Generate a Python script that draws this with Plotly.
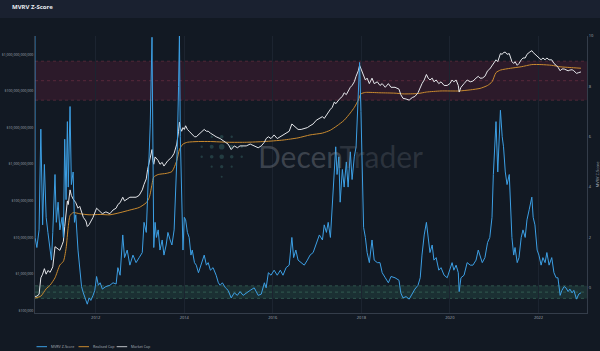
import datetime
import plotly.graph_objects as go

# ---------------- data ----------------
z_years = [
    2010.625,
    2010.63, 2010.67, 2010.72, 2010.76, 2010.80, 2010.84, 2010.88, 2010.92, 2010.97, 2011.00,
    2011.03, 2011.08, 2011.11, 2011.15, 2011.19, 2011.24, 2011.27, 2011.30, 2011.33, 2011.36,
    2011.38, 2011.42, 2011.45, 2011.49, 2011.52, 2011.55, 2011.60, 2011.64, 2011.68, 2011.72,
    2011.78, 2011.81, 2011.85, 2011.89, 2011.94, 2011.98, 2012.02, 2012.06, 2012.10, 2012.15,
    2012.23, 2012.32, 2012.39, 2012.46, 2012.50, 2012.55, 2012.61, 2012.65, 2012.71, 2012.77,
    2012.84, 2012.91, 2012.98, 2013.05, 2013.09, 2013.14, 2013.17, 2013.21, 2013.23, 2013.27,
    2013.29, 2013.31, 2013.34, 2013.37, 2013.41, 2013.45, 2013.50, 2013.54, 2013.59, 2013.63,
    2013.68, 2013.72, 2013.77, 2013.80, 2013.84, 2013.87, 2013.89, 2013.91, 2013.94, 2013.97,
    2014.00, 2014.03, 2014.07, 2014.11, 2014.15, 2014.18, 2014.23, 2014.27, 2014.32, 2014.36,
    2014.41, 2014.45, 2014.50, 2014.54, 2014.59, 2014.65, 2014.72, 2014.77, 2014.81, 2014.86,
    2014.93, 2014.99, 2015.06, 2015.13, 2015.20, 2015.26, 2015.33, 2015.40, 2015.49, 2015.58,
    2015.67, 2015.74, 2015.81, 2015.85, 2015.90, 2015.96, 2016.03, 2016.10, 2016.17, 2016.23,
    2016.30, 2016.37, 2016.43, 2016.47, 2016.52, 2016.57, 2016.64, 2016.71, 2016.78, 2016.84,
    2016.91, 2016.98, 2017.05, 2017.12, 2017.16, 2017.21, 2017.25, 2017.30, 2017.34, 2017.39,
    2017.42, 2017.45, 2017.49, 2017.52, 2017.57, 2017.61, 2017.66, 2017.70, 2017.75, 2017.79,
    2017.84, 2017.88, 2017.93, 2017.96, 2017.99, 2018.02, 2018.05, 2018.09, 2018.13, 2018.18,
    2018.24, 2018.29, 2018.36, 2018.42, 2018.47, 2018.54, 2018.61, 2018.67, 2018.76, 2018.85,
    2018.89, 2018.94, 2019.01, 2019.08, 2019.15, 2019.21, 2019.28, 2019.33, 2019.37, 2019.42,
    2019.47, 2019.51, 2019.55, 2019.60, 2019.64, 2019.69, 2019.75, 2019.80, 2019.87, 2019.94,
    2020.00, 2020.05, 2020.09, 2020.14, 2020.19, 2020.21, 2020.25, 2020.32, 2020.39, 2020.46,
    2020.52, 2020.59, 2020.64, 2020.68, 2020.73, 2020.79, 2020.85, 2020.90, 2020.95, 2020.98,
    2021.01, 2021.04, 2021.08, 2021.11, 2021.14, 2021.18, 2021.21, 2021.25, 2021.29, 2021.34,
    2021.37, 2021.40, 2021.44, 2021.47, 2021.52, 2021.56, 2021.61, 2021.65, 2021.70, 2021.74,
    2021.79, 2021.85, 2021.88, 2021.92, 2021.97, 2022.01, 2022.06, 2022.10, 2022.15, 2022.19,
    2022.24, 2022.30, 2022.35, 2022.40, 2022.44, 2022.49, 2022.53, 2022.58, 2022.62, 2022.67,
    2022.71, 2022.76, 2022.80, 2022.86, 2022.91, 2022.96,
]
z_values = [
    12.0,
    2.0, 1.6, 2.3, 6.3, 2.5, 4.9, 2.8, 2.2, 1.5, 1.1,
    2.2, 4.5, 2.6, 3.4, 2.3, 2.8, 2.0, 5.9, 3.5, 6.6,
    4.0, 7.2, 4.1, 4.6, 2.6, 2.9, 1.5, 0.9, 0.05, -0.2,
    -0.5, -0.65, -0.4, -0.5, -0.3, -0.1, 0.45, 0.1, 0.2, -0.05,
    0.05, 0.1, 0.2, 0.15, 0.8, 0.5, 2.1, 1.2, 1.5, 0.9,
    1.3, 1.0, 1.2, 1.4, 2.6, 2.2, 3.6, 5.2, 6.5, 9.95,
    5.0, 1.6, 2.6, 2.0, 2.3, 1.5, 1.9, 1.3, 1.7, 2.2,
    1.9, 1.7, 2.3, 3.6, 5.5, 8.0, 10.05, 6.0, 3.0, 1.5,
    2.8, 2.7, 2.2, 2.0, 1.3, 1.5, 1.0, 0.9, 0.6, 0.8,
    1.1, 1.3, 0.9, 1.0, 0.7, 0.8, 0.5, 0.2, 0.1, 0.2,
    0.0, -0.1, -0.4, -0.2, -0.3, -0.15, -0.3, -0.2, -0.1, 0.0,
    -0.3, -0.25, 0.2, 0.0, 0.6, 0.5, 0.7, 0.5, 0.7, 0.5,
    0.8, 0.9, 2.0, 1.2, 1.5, 1.1, 1.0, 0.9, 1.1, 1.3,
    1.4, 1.8, 2.1, 1.9, 2.5, 2.2, 2.6, 2.0, 3.3, 4.6,
    5.6, 4.5, 5.2, 3.4, 4.7, 4.0, 5.0, 4.0, 5.4, 4.3,
    5.2, 5.6, 7.5, 8.95, 7.0, 4.5, 2.4, 2.0, 1.4, 1.0,
    1.9, 1.1, 1.0, 1.0, 0.6, 0.4, 0.2, 0.45, 0.4, 0.3,
    -0.2, -0.4, -0.35, -0.45, -0.2, -0.05, 0.1, 0.4, 1.3, 2.1,
    2.6, 2.0, 1.4, 1.7, 1.1, 1.2, 0.7, 0.8, 0.5, 0.4,
    0.7, 1.0, 0.7, 0.9, 0.6, -0.15, 0.4, 0.5, 1.0, 0.9,
    0.9, 1.1, 1.5, 1.3, 1.0, 1.2, 1.8, 2.0, 2.8, 4.5,
    5.6, 6.6, 4.6, 6.2, 7.05, 6.0, 5.6, 4.6, 4.1, 4.5,
    3.2, 2.0, 1.3, 1.6, 1.0, 1.2, 2.0, 2.3, 2.0, 2.7,
    3.1, 3.6, 2.8, 2.5, 1.5, 1.3, 0.9, 1.2, 1.0, 1.4,
    0.9, 1.2, 0.6, 0.4, 0.4, -0.3, -0.1, 0.05, 0.0, -0.15,
    -0.05, -0.2, -0.1, -0.45, -0.25, -0.2,
]

mc_years = [
    2010.63, 2010.67, 2010.72, 2010.76, 2010.80, 2010.84, 2010.88, 2010.92, 2010.97, 2011.03,
    2011.08, 2011.15, 2011.19, 2011.24, 2011.27, 2011.30, 2011.36, 2011.38, 2011.42, 2011.45,
    2011.49, 2011.55, 2011.60, 2011.64, 2011.72, 2011.78, 2011.81, 2011.85, 2011.89, 2011.94,
    2012.02, 2012.10, 2012.15, 2012.23, 2012.32, 2012.39, 2012.46, 2012.50, 2012.55, 2012.61,
    2012.65, 2012.71, 2012.77, 2012.84, 2012.91, 2012.98, 2013.05, 2013.09, 2013.14, 2013.17,
    2013.21, 2013.23, 2013.27, 2013.29, 2013.31, 2013.34, 2013.41, 2013.45, 2013.50, 2013.54,
    2013.59, 2013.63, 2013.68, 2013.72, 2013.77, 2013.83, 2013.87, 2013.89, 2013.91, 2013.94,
    2013.97, 2014.00, 2014.03, 2014.07, 2014.11, 2014.18, 2014.23, 2014.27, 2014.32, 2014.36,
    2014.41, 2014.45, 2014.50, 2014.54, 2014.59, 2014.65, 2014.72, 2014.81, 2014.86, 2014.93,
    2014.99, 2015.06, 2015.13, 2015.20, 2015.26, 2015.33, 2015.40, 2015.49, 2015.58, 2015.67,
    2015.74, 2015.81, 2015.85, 2015.90, 2015.96, 2016.03, 2016.10, 2016.17, 2016.23, 2016.30,
    2016.37, 2016.43, 2016.47, 2016.52, 2016.57, 2016.64, 2016.71, 2016.78, 2016.84, 2016.91,
    2016.98, 2017.05, 2017.12, 2017.16, 2017.21, 2017.25, 2017.30, 2017.34, 2017.39, 2017.42,
    2017.45, 2017.52, 2017.57, 2017.61, 2017.66, 2017.70, 2017.75, 2017.79, 2017.84, 2017.88,
    2017.93, 2017.96, 2017.99, 2018.02, 2018.05, 2018.09, 2018.13, 2018.18, 2018.24, 2018.29,
    2018.36, 2018.42, 2018.47, 2018.54, 2018.61, 2018.67, 2018.76, 2018.85, 2018.89, 2018.94,
    2019.01, 2019.08, 2019.15, 2019.21, 2019.28, 2019.33, 2019.37, 2019.42, 2019.47, 2019.51,
    2019.55, 2019.60, 2019.64, 2019.69, 2019.75, 2019.80, 2019.87, 2019.94, 2020.00, 2020.05,
    2020.09, 2020.14, 2020.19, 2020.21, 2020.25, 2020.32, 2020.39, 2020.46, 2020.52, 2020.59,
    2020.64, 2020.68, 2020.73, 2020.79, 2020.85, 2020.90, 2020.95, 2020.98, 2021.04, 2021.08,
    2021.11, 2021.14, 2021.18, 2021.21, 2021.25, 2021.29, 2021.34, 2021.37, 2021.40, 2021.44,
    2021.47, 2021.52, 2021.56, 2021.61, 2021.65, 2021.70, 2021.74, 2021.79, 2021.85, 2021.88,
    2021.92, 2021.97, 2022.01, 2022.06, 2022.10, 2022.15, 2022.19, 2022.24, 2022.30, 2022.35,
    2022.40, 2022.44, 2022.49, 2022.53, 2022.58, 2022.62, 2022.67, 2022.71, 2022.76, 2022.80,
    2022.86, 2022.91, 2022.96,
]
mc_log10 = [
    5.39, 5.4, 5.45, 5.9, 6.0, 6.15, 6.0, 6.1, 6.05, 6.2,
    6.75, 6.7, 6.65, 6.8, 6.9, 7.3, 8.0, 7.9, 8.3, 8.15,
    8.05, 7.95, 7.8, 7.85, 7.55, 7.45, 7.3, 7.35, 7.45, 7.55,
    7.8, 7.7, 7.65, 7.7, 7.65, 7.75, 7.8, 7.9, 7.95, 8.1,
    8.0, 8.05, 8.1, 8.1, 8.1, 8.15, 8.3, 8.45, 8.6, 8.85,
    9.1, 9.25, 9.4, 9.1, 9.0, 9.2, 9.1, 9.0, 9.05, 8.95,
    9.05, 9.1, 9.15, 9.2, 9.3, 9.55, 9.9, 10.15, 10.0, 9.9,
    10.0, 9.95, 10.05, 9.95, 9.9, 9.8, 9.75, 9.75, 9.8, 9.85,
    9.9, 9.95, 9.9, 9.9, 9.85, 9.8, 9.75, 9.7, 9.65, 9.6,
    9.55, 9.4, 9.5, 9.45, 9.5, 9.5, 9.5, 9.55, 9.5, 9.45,
    9.5, 9.6, 9.7, 9.75, 9.7, 9.8, 9.7, 9.75, 9.8, 9.85,
    9.9, 10.1, 10.05, 10.0, 9.95, 9.95, 9.97, 10.0, 10.05, 10.1,
    10.2, 10.25, 10.3, 10.25, 10.35, 10.4, 10.5, 10.55, 10.7, 10.65,
    10.7, 10.8, 10.85, 10.95, 10.9, 11.0, 11.1, 11.15, 11.25, 11.4,
    11.55, 11.7, 11.6, 11.5, 11.45, 11.3, 11.35, 11.2, 11.35, 11.2,
    11.25, 11.15, 11.2, 11.1, 11.2, 11.1, 11.1, 11.05, 10.9, 10.8,
    10.78, 10.75, 10.82, 10.85, 10.95, 11.1, 11.2, 11.3, 11.45, 11.35,
    11.3, 11.35, 11.25, 11.3, 11.2, 11.25, 11.15, 11.15, 11.2, 11.3,
    11.25, 11.3, 11.15, 10.97, 11.1, 11.2, 11.3, 11.25, 11.27, 11.35,
    11.4, 11.35, 11.35, 11.4, 11.55, 11.6, 11.7, 11.75, 11.85, 11.8,
    11.95, 12.02, 12.0, 12.05, 12.06, 12.0, 12.02, 11.9, 11.8, 11.75,
    11.8, 11.7, 11.75, 11.85, 11.9, 11.9, 12.0, 12.05, 12.1, 12.05,
    12.0, 11.95, 11.9, 11.85, 11.9, 11.85, 11.9, 11.85, 11.85, 11.75,
    11.7, 11.65, 11.55, 11.6, 11.6, 11.58, 11.55, 11.57, 11.58, 11.55,
    11.48, 11.5, 11.52,
]

rc_years = [
    2010.63, 2010.76, 2010.88, 2010.97, 2011.08, 2011.19, 2011.27, 2011.33, 2011.38, 2011.42,
    2011.49, 2011.64, 2011.85, 2012.10, 2012.32, 2012.55, 2012.77, 2012.98, 2013.14, 2013.21,
    2013.27, 2013.31, 2013.41, 2013.59, 2013.72, 2013.83, 2013.89, 2013.97, 2014.07, 2014.32,
    2014.59, 2014.99, 2015.40, 2015.81, 2016.23, 2016.57, 2016.84, 2017.12, 2017.30, 2017.45,
    2017.61, 2017.75, 2017.84, 2017.93, 2017.99, 2018.09, 2018.42, 2018.76, 2018.94, 2019.28,
    2019.47, 2019.80, 2020.21, 2020.46, 2020.68, 2020.85, 2020.95, 2021.04, 2021.14, 2021.37,
    2021.61, 2021.85, 2022.06, 2022.30, 2022.49, 2022.71, 2022.96,
]
rc_log10 = [
    5.35, 5.4, 5.6, 5.7, 5.9, 6.25, 6.35, 6.7, 7.3, 7.6,
    7.68, 7.65, 7.62, 7.63, 7.62, 7.68, 7.75, 7.82, 7.95, 8.1,
    8.45, 8.65, 8.72, 8.75, 8.8, 9.1, 9.4, 9.55, 9.6, 9.62,
    9.62, 9.6, 9.6, 9.62, 9.66, 9.72, 9.8, 9.85, 9.93, 10.05,
    10.2, 10.4, 10.55, 10.75, 10.92, 10.96, 10.95, 10.94, 10.92, 10.93,
    10.97, 11.0, 11.0, 11.03, 11.07, 11.15, 11.25, 11.5, 11.57, 11.62,
    11.66, 11.72, 11.72, 11.7, 11.66, 11.64, 11.62,
]

cap_tick_vals = [1e5, 1e6, 1e7, 1e8, 1e9, 1e10, 1e11, 1e12]
cap_tick_text = ["$100,000", "$1,000,000", "$10,000,000", "$100,000,000",
                 "$1,000,000,000", "$10,000,000,000", "$100,000,000,000",
                 "$1,000,000,000,000"]
z_tick_vals = [0, 2, 4, 6, 8, 10]
year_ticks = [2012, 2014, 2016, 2018, 2020, 2022]

red_band = [7.45, 9.0]
green_band = [-0.42, 0.08]


def yr2dt(y):
    yi = int(y)
    a = datetime.datetime(yi, 1, 1)
    b = datetime.datetime(yi + 1, 1, 1)
    return a + (b - a) * (y - yi)


# ---------------- figure ----------------
W, H = 600, 351
ML, MR, MT, MB = 35, 13, 36, 38
PW, PH = W - ML - MR, H - MT - MB
BG = "#121923"
HEADER = "#1a2130"
TICK = "#a3abb5"
AXLINE = "#343d4a"


def px(X):
    return (X - ML) / PW


def py(Y):
    return (H - MB - Y) / PH


fig = go.Figure()
fig.add_trace(go.Scatter(
    x=[yr2dt(v) for v in z_years], y=z_values, yaxis="y2", mode="lines",
    name="MVRV Z-Score", line=dict(color="#3c9fe4", width=1), showlegend=False))
fig.add_trace(go.Scatter(
    x=[yr2dt(v) for v in rc_years], y=[10 ** v for v in rc_log10], mode="lines",
    name="Realised Cap", line=dict(color="#c98a2f", width=1, shape="spline", smoothing=0.6),
    showlegend=False))
fig.add_trace(go.Scatter(
    x=[yr2dt(v) for v in mc_years], y=[10 ** v for v in mc_log10], mode="lines",
    name="Market Cap", line=dict(color="#e4e6ea", width=1), showlegend=False))

shapes = []
# header bar
shapes.append(dict(type="rect", xref="paper", yref="paper", x0=px(0), x1=px(W),
                   y0=py(18), y1=py(0), fillcolor=HEADER, line=dict(width=0), layer="below"))
# bands
shapes.append(dict(type="rect", xref="paper", yref="y2", x0=0, x1=1,
                   y0=red_band[0], y1=red_band[1], fillcolor="rgba(110,30,60,0.28)",
                   line=dict(width=0), layer="below"))
shapes.append(dict(type="rect", xref="paper", yref="y2", x0=0, x1=1,
                   y0=green_band[0], y1=green_band[1], fillcolor="rgba(60,130,110,0.22)",
                   line=dict(width=0), layer="below"))
for v in [red_band[0], sum(red_band) / 2, red_band[1]]:
    shapes.append(dict(type="line", xref="paper", yref="y2", x0=0, x1=1, y0=v, y1=v,
                       line=dict(color="rgba(170,70,90,0.5)", width=0.7, dash="dot"),
                       layer="below"))
for v in [green_band[0], sum(green_band) / 2, green_band[1]]:
    shapes.append(dict(type="line", xref="paper", yref="y2", x0=0, x1=1, y0=v, y1=v,
                       line=dict(color="rgba(90,160,130,0.55)", width=0.7, dash="dot"),
                       layer="below"))

# watermark logo dots
dots = [(211.7, 136.7, 1.2), (221.7, 136.7, 1.8), (231.7, 136.7, 1.2),
        (201.7, 146.7, 1.2), (211.7, 146.7, 2.0), (221.7, 146.7, 2.8), (231.7, 146.7, 2.0), (241.7, 146.7, 1.2),
        (201.7, 156.7, 1.2), (211.7, 156.7, 1.8), (221.7, 156.7, 2.3), (231.7, 156.7, 1.8), (241.7, 156.7, 1.2),
        (211.7, 166.7, 1.1), (221.7, 166.7, 1.6), (231.7, 166.7, 1.1),
        (221.7, 176.7, 1.0)]
for (X, Y, r) in dots:
    shapes.append(dict(type="circle", xref="paper", yref="paper",
                       x0=px(X - r), x1=px(X + r), y0=py(Y + r), y1=py(Y - r),
                       fillcolor="rgba(70,130,125,0.35)", line=dict(width=0), layer="below"))

# manual legend line samples
legend_items = [("MVRV Z-Score", "#3c9fe4", 36.5), ("Realised Cap", "#c98a2f", 78.5),
                ("Market Cap", "#bfc3c8", 116.7)]
LEG_Y = 346.7
annotations = []
for name, col, X in legend_items:
    shapes.append(dict(type="line", xref="paper", yref="paper", x0=px(X), x1=px(X + 10.5),
                       y0=py(LEG_Y), y1=py(LEG_Y), line=dict(color=col, width=1)))
    annotations.append(dict(xref="paper", yref="paper", x=px(X + 12), y=py(LEG_Y),
                            xanchor="left", yanchor="middle", showarrow=False, text=name,
                            font=dict(size=3.6, color="#a9b0b9", family="Open Sans")))

annotations.append(dict(xref="paper", yref="paper", x=px(10), y=py(6.5), xanchor="left",
                        yanchor="middle", showarrow=False, text="<b>MVRV Z-Score</b>",
                        font=dict(size=6, color="#e9edf2", family="Open Sans")))
annotations.append(dict(xref="paper", yref="paper", x=px(340), y=py(156), xanchor="center",
                        yanchor="middle", showarrow=False,
                        text='<span style="color:rgba(150,158,168,0.33)">Decen</span>'
                             '<span style="color:rgba(120,128,138,0.25)">Trader</span>',
                        font=dict(size=30, family="Lato")))

fig.update_layout(
    width=W, height=H, margin=dict(l=ML, r=MR, t=MT, b=MB, pad=0, autoexpand=False),
    paper_bgcolor=BG, plot_bgcolor=BG, showlegend=False,
    shapes=shapes, annotations=annotations,
    font=dict(family="Open Sans", color=TICK, size=4),
    xaxis=dict(type="date", range=[yr2dt(2010.628), yr2dt(2023.097)], automargin=False,
               tickvals=[yr2dt(y) for y in year_ticks], ticktext=[str(y) for y in year_ticks],
               showgrid=True, gridcolor="#1c2430", gridwidth=1, zeroline=False,
               showline=True, linecolor=AXLINE, linewidth=1, ticks="",
               tickfont=dict(size=4, color=TICK)),
    yaxis=dict(type="log", range=[4.94, 12.5], tickvals=cap_tick_vals, ticktext=cap_tick_text,
               automargin=False,
               showgrid=False, zeroline=False, showline=True, linecolor=AXLINE, linewidth=1,
               ticks="", tickfont=dict(size=3.5, color=TICK)),
    yaxis2=dict(overlaying="y", side="right", range=[-1, 10], tickvals=z_tick_vals,
                automargin=False,
                showgrid=False, zeroline=False, showline=True, linecolor=AXLINE, linewidth=1,
                ticks="", tickfont=dict(size=4, color=TICK),
                title=dict(text="MVRV Z-Score", font=dict(size=4, color=TICK), standoff=3)),
)

fig.write_html("out.html")
